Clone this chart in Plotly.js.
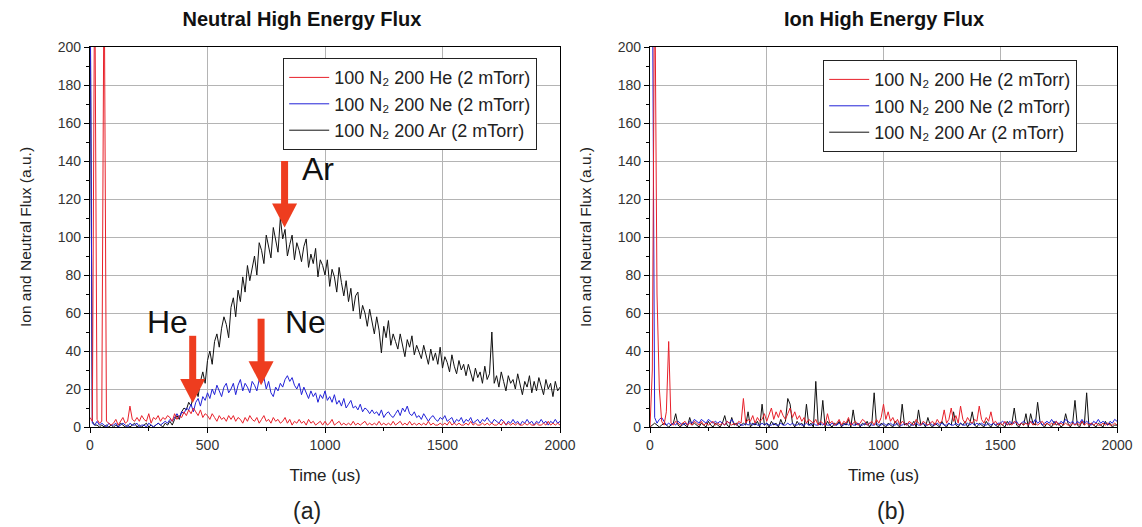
<!DOCTYPE html>
<html>
<head>
<meta charset="utf-8">
<script src="https://cdn.plot.ly/plotly-3.0.1.min.js"></script>
<style>html,body{margin:0;padding:0;background:#fff}#chart{width:1142px;height:527px}</style>
</head>
<body>
<div id="chart"></div>
<script>
// Time axis (us): samples start at 0 and are spaced 10 us apart
const timeStart = 0;
const timeStep = 10;

const seriesNames = [
  '100 N\u2082 200 He (2 mTorr)',
  '100 N\u2082 200 Ne (2 mTorr)',
  '100 N\u2082 200 Ar (2 mTorr)'
];
const panelTitles = ['Neutral High Energy Flux', 'Ion High Energy Flux'];
const panelLabels = ['(a)', '(b)'];
const xTitle = 'Time (us)';
const yTitle = 'Ion and Neutral Flux (a.u.)';

// ---- Neutral high energy flux (panel a) ----
const neutralHe = [
  5, 3, 250, 4, 2, 3, 250, 3, 2, 1,
  2, 4, 1, 3, 5, 2, 3, 11, 4, 3,
  5, 3, 6, 4, 3, 7, 2, 5, 4, 6,
  3, 5, 4, 6, 5, 3, 7, 4, 6, 5,
  8, 6, 9, 7, 10, 8, 6, 9, 5, 7,
  6, 4, 7, 5, 3, 6, 4, 5, 3, 6,
  4, 6, 3, 5, 4, 2, 5, 3, 6, 4,
  3, 5, 2, 4, 6, 3, 4, 2, 5, 3,
  4, 2, 3, 5, 2, 4, 1, 3, 2, 4,
  2, 3, 1, 4, 2, 3, 1, 2, 3, 1,
  3, 1, 2, 4, 1, 2, 3, 1, 2, 1,
  2, 1, 3, 1, 2, 1, 2, 3, 1, 2,
  1, 2, 1, 3, 1, 2, 1, 2, 1, 3,
  1, 2, 3, 1, 2, 1, 3, 1, 2, 1,
  2, 1, 2, 1, 3, 1, 2, 1, 1, 2,
  1, 2, 1, 3, 1, 2, 1, 2, 1, 1,
  2, 1, 3, 1, 2, 1, 1, 2, 1, 2,
  1, 2, 1, 1, 2, 1, 3, 1, 2, 1,
  2, 1, 2, 1, 1, 2, 1, 2, 1, 1,
  2, 1, 1, 2, 1, 3, 1, 2, 1, 2,
  1
];
const neutralNe = [
  260, 2, 1, 3, 1, 2, 1, 0, 2, 1,
  1, 2, 0, 1, 2, 1, 0, 2, 1, 1,
  2, 0, 1, 1, 0, 2, 1, 0, 1, 2,
  1, 2, 3, 2, 4, 3, 5, 7, 5, 8,
  7, 10, 9, 12, 8, 13, 15, 11, 16, 14,
  18, 15, 20, 17, 22, 19, 16, 21, 23, 18,
  20, 23, 17, 22, 25, 19, 23, 21, 18, 24,
  22, 19, 25, 23, 26, 20, 24, 18, 16, 21,
  19, 23, 21, 25, 27, 24, 26, 22, 20, 23,
  17, 21, 18, 15, 19, 16, 18, 13, 17, 15,
  19, 14, 16, 13, 17, 12, 14, 11, 15, 10,
  12, 14, 10, 11, 9, 12, 8, 10, 9, 7,
  9, 7, 8, 6, 9, 5, 7, 8, 6, 5,
  7, 9, 6, 10, 8, 11, 7, 6, 8, 5,
  6, 4, 7, 5, 3, 5, 6, 4, 3, 5,
  4, 6, 3, 4, 5, 2, 4, 3, 5, 2,
  4, 3, 5, 2, 3, 4, 2, 4, 3, 5,
  3, 2, 4, 3, 2, 4, 3, 1, 3, 2,
  4, 2, 3, 1, 3, 2, 4, 2, 3, 1,
  3, 2, 4, 2, 3, 1, 3, 2, 4, 2,
  3
];
const neutralAr = [
  250, 3, 1, 1, 0, 1, 0, 1, 0, 1,
  0, 1, 0, 2, 1, 0, 1, 0, 1, 2,
  0, 1, 0, 1, 2, 0, 1, 0, 1, 2,
  1, 0, 2, 1, 3, 1, 4, 6, 4, 8,
  10, 9, 13, 11, 17, 20, 16, 24, 29, 23,
  35, 40, 33, 45, 49, 42, 52, 58, 54, 47,
  63, 68, 58, 72, 66, 79, 71, 85, 77, 83,
  90, 80, 97, 93, 86, 101, 94, 89, 105, 98,
  92, 110, 99, 104, 90, 96, 101, 88, 97, 93,
  87, 95, 99, 84, 91, 86, 94, 79, 88, 85,
  80, 88, 74, 83, 79, 71, 84, 76, 69, 77,
  66, 73, 61, 69, 71, 57, 64, 60, 53, 62,
  55, 49, 58, 51, 39, 53, 47, 56, 43, 49,
  45, 41, 49, 43, 37, 46, 42, 48, 38, 43,
  40, 36, 43, 38, 33, 41, 35, 39, 33, 42,
  31, 37, 34, 29, 38, 32, 28, 35, 30, 33,
  27, 33, 28, 24, 31, 26, 29, 23, 32, 25,
  28, 50, 23, 27, 21, 29, 24, 19, 27, 23,
  25, 20, 28, 22, 17, 24, 21, 27, 18, 24,
  19, 26, 21, 17, 25, 20, 23, 16, 24, 19,
  21
];

// ---- Ion high energy flux (panel b) ----
const ionHe = [
  0, 30, 250, 70, 20, 3, 1, 8, 45, 2,
  1, 3, 2, 1, 2, 3, 1, 2, 1, 3,
  2, 1, 3, 1, 2, 1, 2, 3, 1, 2,
  1, 2, 1, 3, 2, 1, 2, 1, 3, 2,
  15, 2, 4, 3, 6, 2, 5, 3, 4, 7,
  3, 6, 10, 4, 8, 5, 9, 6, 4, 7,
  10, 5, 8, 4, 6, 3, 5, 2, 4, 3,
  2, 4, 1, 3, 2, 1, 7, 2, 3, 1,
  2, 4, 1, 3, 2, 5, 1, 2, 3, 1,
  2, 4, 3, 1, 2, 3, 1, 4, 2, 5,
  12, 4, 8, 3, 5, 2, 4, 1, 3, 2,
  1, 3, 2, 1, 4, 2, 1, 3, 2, 1,
  2, 3, 1, 4, 2, 3, 9, 2, 4, 10,
  3, 6, 2, 11, 4, 2, 5, 3, 2, 4,
  3, 11, 4, 2, 5, 3, 8, 2, 3, 1,
  2, 1, 3, 1, 2, 1, 3, 2, 1, 2,
  1, 2, 1, 3, 1, 2, 1, 2, 3, 1,
  2, 1, 2, 1, 3, 1, 2, 1, 2, 1,
  1, 2, 1, 2, 1, 3, 1, 2, 1, 2,
  1, 2, 1, 1, 2, 1, 2, 1, 1, 2,
  1
];
const ionNe = [
  250, 250, 5, 2, 4, 5, 3, 1, 2, 1,
  2, 1, 3, 2, 1, 2, 1, 3, 2, 4,
  3, 2, 4, 3, 2, 4, 3, 2, 3, 2,
  3, 2, 1, 3, 2, 4, 2, 1, 2, 1,
  1, 2, 1, 2, 1, 2, 1, 1, 2, 1,
  2, 1, 1, 2, 1, 1, 2, 1, 1, 2,
  1, 2, 1, 1, 2, 1, 1, 2, 1, 1,
  2, 1, 1, 2, 1, 2, 1, 1, 2, 1,
  1, 2, 1, 1, 2, 1, 2, 1, 1, 2,
  1, 1, 2, 1, 2, 1, 1, 2, 1, 1,
  2, 1, 1, 2, 1, 1, 2, 1, 1, 2,
  1, 2, 1, 1, 2, 1, 1, 2, 1, 1,
  2, 1, 1, 2, 1, 2, 1, 1, 2, 1,
  1, 2, 1, 2, 1, 1, 2, 1, 2, 1,
  2, 1, 2, 1, 1, 2, 1, 2, 1, 2,
  2, 3, 2, 1, 3, 2, 2, 3, 1, 2,
  3, 2, 1, 3, 2, 4, 2, 3, 1, 2,
  3, 2, 4, 2, 3, 1, 3, 2, 4, 3,
  2, 3, 1, 3, 2, 4, 2, 3, 2, 1,
  3, 2, 4, 2, 3, 2, 1, 3, 2, 4,
  3
];
const ionAr = [
  0, 1, 2, 1, 0, 1, 2, 1, 0, 1,
  2, 7, 1, 0, 2, 1, 0, 5, 1, 2,
  1, 0, 2, 1, 0, 3, 1, 0, 2, 1,
  0, 2, 6, 1, 0, 5, 1, 2, 0, 1,
  2, 1, 8, 0, 2, 1, 3, 0, 12, 1,
  2, 0, 3, 1, 2, 0, 4, 1, 3, 15,
  12, 2, 0, 3, 1, 2, 0, 12, 1, 2,
  0, 24, 2, 1, 14, 0, 3, 1, 0, 2,
  1, 3, 0, 2, 1, 4, 0, 9, 1, 2,
  0, 2, 1, 3, 0, 2, 18, 1, 0, 2,
  1, 0, 2, 1, 0, 3, 1, 0, 12, 1,
  2, 0, 1, 3, 0, 9, 1, 2, 0, 5,
  1, 0, 2, 1, 0, 3, 1, 0, 2, 1,
  8, 1, 0, 2, 1, 3, 0, 2, 8, 1,
  0, 2, 1, 0, 3, 1, 0, 2, 1, 0,
  2, 1, 0, 3, 1, 2, 10, 1, 0, 2,
  1, 7, 0, 7, 2, 1, 13, 3, 1, 0,
  2, 1, 0, 3, 1, 2, 0, 1, 7, 2,
  0, 2, 14, 1, 0, 3, 1, 18, 0, 2,
  1, 0, 2, 1, 0, 3, 1, 2, 0, 1,
  1
];

// Peak markers on panel (a)
const peakLabels = ['He', 'Ne', 'Ar'];
const peakTimes = [437, 728, 828];
const peakTipValues = [12.6, 22, 105];
const peakTailValues = [48, 57, 140];
const labelTimes = [328, 915, 970];
const labelValues = [55.5, 55.5, 136];

const colors = {He: '#e8202a', Ne: '#2222d8', Ar: '#111111'};
const arrowColor = '#ee3d1f';
const FONT = 'Arial, "Liberation Sans", Helvetica, sans-serif';

function makeTrace(y, name, color, rank, xa, ya, legendId, group) {
  return {
    type: 'scatter', mode: 'lines', y: y, x0: timeStart, dx: timeStep,
    name: name, line: {color: color, width: 1},
    xaxis: xa, yaxis: ya, legend: legendId, legendrank: rank,
    legendgroup: group, hoverinfo: 'skip'
  };
}

const data = [
  makeTrace(neutralAr, seriesNames[2], colors.Ar, 3, 'x', 'y', 'legend', 'a3'),
  makeTrace(neutralNe, seriesNames[1], colors.Ne, 2, 'x', 'y', 'legend', 'a2'),
  makeTrace(neutralHe, seriesNames[0], colors.He, 1, 'x', 'y', 'legend', 'a1'),
  makeTrace(ionAr, seriesNames[2], colors.Ar, 3, 'x2', 'y2', 'legend2', 'b3'),
  makeTrace(ionNe, seriesNames[1], colors.Ne, 2, 'x2', 'y2', 'legend2', 'b2'),
  makeTrace(ionHe, seriesNames[0], colors.He, 1, 'x2', 'y2', 'legend2', 'b1')
];

// geometry (plot area = 1117 x 380 px, offset 0,47)
const W = 1142, H = 527, ML = 0, MR = 25, MT = 47, MB = 100;
const PW = W - ML - MR, PH = H - MT - MB;
const px2x = p => (p - ML) / PW;
const py2y = p => 1 - (p - MT) / PH;
const Y_RANGE = [0, 200];
const pxPerUnitY = PH / (Y_RANGE[1] - Y_RANGE[0]);

const tickFont = {family: FONT, size: 14, color: '#333'};
function xAxis(domain, anchor) {
  return {
    domain: domain, anchor: anchor, range: [0, 2000], tick0: 0, dtick: 500,
    ticks: 'outside', ticklen: 5, tickwidth: 1, tickcolor: '#000',
    minor: {ticks: 'outside', dtick: 250, ticklen: 3, tickcolor: '#000', showgrid: false},
    showgrid: true, gridcolor: '#b4b4b4', gridwidth: 1,
    showline: true, linecolor: '#000', linewidth: 1.2, mirror: true,
    zeroline: false, tickfont: tickFont, fixedrange: true,
    title: {text: xTitle, font: {family: FONT, size: 17, color: '#222'}, standoff: 17}
  };
}
function yAxis(domain, anchor) {
  return {
    domain: domain, anchor: anchor, range: Y_RANGE, tick0: 0, dtick: 20,
    ticks: 'outside', ticklen: 5, tickwidth: 1, tickcolor: '#000',
    minor: {ticks: 'outside', dtick: 10, ticklen: 3, tickcolor: '#000', showgrid: false},
    showgrid: true, gridcolor: '#b4b4b4', gridwidth: 1,
    showline: true, linecolor: '#000', linewidth: 1.2, mirror: true,
    zeroline: false, tickfont: tickFont, fixedrange: true,
    title: {text: yTitle, font: {family: FONT, size: 15.5, color: '#222'}, standoff: 22}
  };
}
function innerX(over, anchor) {
  return {overlaying: over, anchor: anchor, side: 'top', range: [0, 2000], tick0: 0, dtick: 500,
    ticks: 'inside', ticklen: 5, tickcolor: '#000', showticklabels: false, showgrid: false,
    showline: false, zeroline: false, fixedrange: true,
    minor: {ticks: 'inside', dtick: 250, ticklen: 3, tickcolor: '#000', showgrid: false}};
}
function innerY(over, anchor) {
  return {overlaying: over, anchor: anchor, side: 'right', range: Y_RANGE, tick0: 0, dtick: 20,
    ticks: 'inside', ticklen: 5, tickcolor: '#000', showticklabels: false, showgrid: false,
    showline: false, zeroline: false, fixedrange: true,
    minor: {ticks: 'inside', dtick: 10, ticklen: 3, tickcolor: '#000', showgrid: false}};
}

const legendBase = {
  xanchor: 'left', yanchor: 'top', bgcolor: '#ffffff', bordercolor: '#222', borderwidth: 1.2,
  font: {family: FONT, size: 18, color: '#222'}, tracegroupgap: 0, itemwidth: 40
};

const annotations = [
  {text: '<b>' + panelTitles[1] + '</b>', xref: 'paper', yref: 'paper', x: px2x(884), y: py2y(19),
   xanchor: 'center', yanchor: 'middle', showarrow: false, font: {family: FONT, size: 20, color: '#111'}},
  {text: panelLabels[0], xref: 'paper', yref: 'paper', x: px2x(307), y: py2y(511),
   xanchor: 'center', yanchor: 'middle', showarrow: false, font: {family: FONT, size: 23, color: '#222'}},
  {text: panelLabels[1], xref: 'paper', yref: 'paper', x: px2x(891), y: py2y(511),
   xanchor: 'center', yanchor: 'middle', showarrow: false, font: {family: FONT, size: 23, color: '#222'}}
];
const shapes = [];
const HEAD_LEN = 24, HEAD_HALF = 12.5;
for (let i = 0; i < peakLabels.length; i++) {
  annotations.push({text: peakLabels[i], xref: 'x', yref: 'y', x: labelTimes[i], y: labelValues[i],
    xanchor: 'center', yanchor: 'middle', showarrow: false, font: {family: FONT, size: 32, color: '#111'}});
  // arrow shaft
  shapes.push({type: 'line', xref: 'x', yref: 'y', x0: peakTimes[i], x1: peakTimes[i],
    y0: peakTailValues[i], y1: peakTipValues[i] + (HEAD_LEN - 2) / pxPerUnitY,
    line: {color: arrowColor, width: 7}});
  // arrow head
  shapes.push({type: 'path', xref: 'x', yref: 'y', xsizemode: 'pixel', ysizemode: 'pixel',
    xanchor: peakTimes[i], yanchor: peakTipValues[i],
    path: 'M' + (-HEAD_HALF) + ',' + HEAD_LEN + 'L' + HEAD_HALF + ',' + HEAD_LEN + 'L0,0Z',
    fillcolor: arrowColor, line: {width: 0}});
}

const layout = {
  width: W, height: H, margin: {l: ML, r: MR, t: MT, b: MB},
  paper_bgcolor: '#fff', plot_bgcolor: '#fff', showlegend: true,
  font: {family: FONT, color: '#222'},
  title: {text: '<b>' + panelTitles[0] + '</b>', font: {family: FONT, size: 20, color: '#111'},
    xref: 'container', yref: 'container', x: 302 / W, y: 1 - 19 / H, xanchor: 'center', yanchor: 'middle'},
  xaxis: xAxis([px2x(90), px2x(560)], 'y'),
  yaxis: yAxis([0, 1], 'x'),
  xaxis2: xAxis([px2x(650), px2x(1117)], 'y2'),
  yaxis2: yAxis([0, 1], 'x2'),
  xaxis3: innerX('x', 'y'),
  yaxis3: innerY('y', 'x'),
  xaxis4: innerX('x2', 'y2'),
  yaxis4: innerY('y2', 'x2'),
  legend: Object.assign({x: px2x(283), y: py2y(58)}, legendBase),
  legend2: Object.assign({x: px2x(823), y: py2y(60)}, legendBase),
  annotations: annotations,
  shapes: shapes
};

Plotly.newPlot('chart', data, layout, {displayModeBar: false, staticPlot: true});
</script>
</body>
</html>
